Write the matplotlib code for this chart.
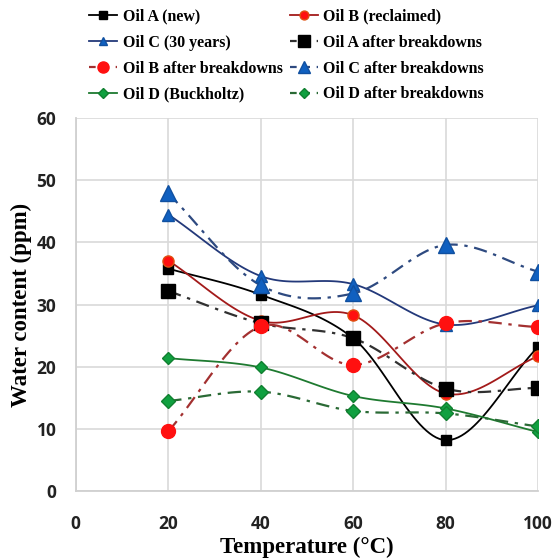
import numpy as np
import matplotlib
matplotlib.use("Agg")
import matplotlib.pyplot as plt
from matplotlib.lines import Line2D

temps = [20, 40, 60, 80, 100]
oil_a_new = [35.8, 31.6, 24.6, 8.2, 23.2]
oil_b_recl = [37.1, 27.4, 28.3, 15.7, 21.7]
oil_c_30 = [44.5, 34.6, 33.3, 26.8, 29.9]
oil_a_after = [32.2, 27.0, 24.6, 16.5, 16.6]
oil_b_after = [9.6, 26.5, 20.3, 27.0, 26.4]
oil_c_after = [47.9, 33.1, 31.8, 39.6, 35.3]
oil_d_buck = [21.4, 19.9, 15.3, 13.3, 9.5]
oil_d_after = [14.5, 16.0, 12.9, 12.5, 10.4]

labels = ["Oil A (new)", "Oil B (reclaimed)", "Oil C (30 years)", "Oil A after breakdowns",
          "Oil B after breakdowns", "Oil C after breakdowns", "Oil D (Buckholtz)", "Oil D after breakdowns"]
x_ticks = [0, 20, 40, 60, 80, 100]
y_ticks = [0, 10, 20, 30, 40, 50, 60]


def smooth(x, y, n=30):
    """Catmull-Rom curve through the data points (Excel-like smoothed line)."""
    x = np.asarray(x, float)
    y = np.asarray(y, float)
    px = np.concatenate([[2 * x[0] - x[1]], x, [2 * x[-1] - x[-2]]])
    py = np.concatenate([[2 * y[0] - y[1]], y, [2 * y[-1] - y[-2]]])
    xs, ys = [], []
    t = np.linspace(0, 1, n)
    for i in range(1, len(px) - 2):
        for arr, out in ((px, xs), (py, ys)):
            p0, p1, p2, p3 = arr[i - 1], arr[i], arr[i + 1], arr[i + 2]
            seg = 0.5 * ((2 * p1) + (-p0 + p2) * t + (2 * p0 - 5 * p1 + 4 * p2 - p3) * t ** 2
                         + (-p0 + 3 * p1 - 3 * p2 + p3) * t ** 3)
            out.extend(seg if i == 1 else seg[1:])
    return np.array(xs), np.array(ys)


fig = plt.figure(figsize=(5.53, 5.60), dpi=100)
ax = fig.add_axes([0.137, 0.123, 0.836, 0.666])

dd = (0, (6, 3, 1.5, 3))
series = [
    (oil_a_new, dict(color="black", ls="-", lw=1.3), dict(marker="s", ms=7, mfc="black", mec="black")),
    (oil_b_recl, dict(color="#A31A1A", ls="-", lw=1.3), dict(marker="o", ms=8, mfc="#FF1010", mec="#E05010")),
    (oil_c_30, dict(color="#23397A", ls="-", lw=1.3), dict(marker="^", ms=8, mfc="#1060C0", mec="#1050A0")),
    (oil_a_after, dict(color="#303030", ls=dd, lw=1.6), dict(marker="s", ms=10, mfc="black", mec="black")),
    (oil_b_after, dict(color="#A33030", ls=dd, lw=1.6), dict(marker="o", ms=10, mfc="#FF1010", mec="#FF1010")),
    (oil_c_after, dict(color="#2E4A80", ls=dd, lw=1.6), dict(marker="^", ms=11, mfc="#1060C0", mec="#1050A0")),
    (oil_d_buck, dict(color="#1E7A30", ls="-", lw=1.3), dict(marker="D", ms=6, mfc="#10A040", mec="#108030")),
    (oil_d_after, dict(color="#2A6A35", ls=dd, lw=1.6), dict(marker="D", ms=7, mfc="#10A040", mec="#108030")),
]

handles = []
for (vals, lst, mst), lab in zip(series, labels):
    sx, sy = smooth(temps, vals)
    ax.plot(sx, sy, zorder=2, **lst)
    ax.plot(temps, vals, ls="none", zorder=3, **mst)
    hl = dict(lst)
    if hl["ls"] != "-":
        hl["ls"] = (0, (3, 3))
    handles.append(Line2D([], [], label=lab, **hl, **{k: (v * 0.8 if k == "ms" else v) for k, v in mst.items()}))

ax.set_xlim(0, 100)
ax.set_ylim(0, 60)
ax.set_xticks(x_ticks)
ax.set_yticks(y_ticks)
ax.grid(True, color="#D9D9D9", lw=1.2, zorder=0)
ax.set_axisbelow(True)
for s in ["top", "right"]:
    ax.spines[s].set_visible(False)
for s in ["left", "bottom"]:
    ax.spines[s].set_color("#D0D0D0")
    ax.spines[s].set_linewidth(1.3)
ax.tick_params(length=0, labelsize=12.5)
ax.tick_params(axis="x", pad=17)
ax.tick_params(axis="y", pad=14)
for t in ax.get_xticklabels() + ax.get_yticklabels():
    t.set_fontfamily("Open Sans")
    t.set_fontweight("bold")
    t.set_color("#222222")

ax.set_xlabel("Temperature (°C)", fontfamily="Liberation Serif", fontweight="bold", fontsize=16.5, labelpad=3)
ax.set_ylabel("Water content (ppm)", fontfamily="Liberation Serif", fontweight="bold", fontsize=16.5, labelpad=3)

order = [0, 2, 4, 6, 1, 3, 5, 7]
leg = fig.legend([handles[i] for i in order], [labels[i] for i in order], ncol=2,
                 loc="upper left", bbox_to_anchor=(0.135, 1.01), frameon=False,
                 prop=dict(family="Liberation Serif", weight="bold", size=11.5),
                 handlelength=1.75, handletextpad=0.35, columnspacing=0.45, labelspacing=0.62)

fig.savefig("out.png", dpi=100)
